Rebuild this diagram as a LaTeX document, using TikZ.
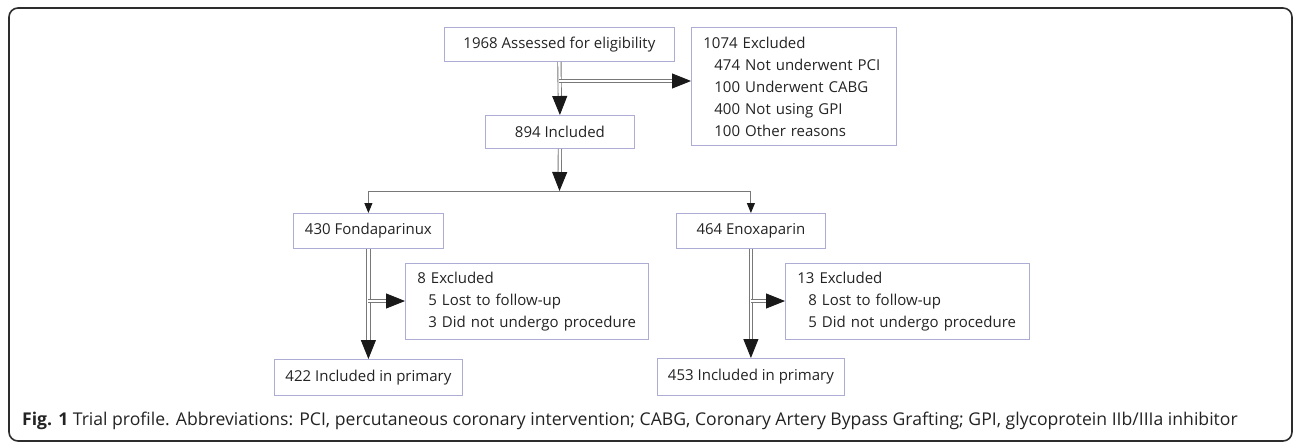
\documentclass[tikz,border=0pt]{standalone}
\usepackage{fontspec}
\setmainfont{Open Sans}
\usetikzlibrary{arrows.meta}
\definecolor{boxc}{RGB}{172,172,212}
\definecolor{linec}{RGB}{120,120,120}
\definecolor{tipc}{RGB}{25,25,25}
\definecolor{framec}{RGB}{45,45,45}
\definecolor{txt}{RGB}{35,35,35}
\begin{document}
\begin{tikzpicture}[x=1pt,y=-1pt,
  box/.style={draw=boxc, line width=0.8pt, inner sep=0pt, anchor=north west,
    font=\fontsize{15}{22}\selectfont, text=txt},
  listbox/.style={box, inner xsep=12pt, align=left},
  dbl/.style={draw=linec, double=white, double distance=2.4pt, line width=0.9pt,
    -{Triangle[length=19pt,width=15pt,color=tipc]}},
  sgl/.style={draw=linec, line width=0.9pt, -{Triangle[length=10pt,width=8pt,color=tipc]}}]
\useasboundingbox (0,0) rectangle (1295,444);
\draw[framec, line width=1.6pt, rounded corners=9pt] (9,8) rectangle (1292,441);
% boxes
\node[box, minimum width=230pt, minimum height=34pt] (b1968) at (444,27) {1968 Assessed for eligibility};
\node[listbox, text width=181pt, minimum height=118pt] (ex1) at (691,27)
  {1074 Excluded\\\hspace*{11pt}474 Not underwent PCI\\\hspace*{11pt}100 Underwent CABG\\\hspace*{11pt}400 Not using GPI\\\hspace*{11pt}100 Other reasons};
\node[box, minimum width=149pt, minimum height=33pt] (b894) at (485,115) {894 Included};
\node[box, minimum width=150pt, minimum height=35pt] (fonda) at (293,213) {430 Fondaparinux};
\node[box, minimum width=149pt, minimum height=35pt] (enox) at (676,213) {464 Enoxaparin};
\node[listbox, text width=219pt, minimum height=76pt] (ex8) at (405,263)
  {8 Excluded\\\hspace*{11pt}5 Lost to follow-up\\\hspace*{11pt}3 Did not undergo procedure};
\node[listbox, text width=220pt, minimum height=76pt] (ex13) at (785,263)
  {13 Excluded\\\hspace*{11pt}8 Lost to follow-up\\\hspace*{11pt}5 Did not undergo procedure};
\node[box, minimum width=188pt, minimum height=36pt] (p422) at (274,359) {422 Included in primary};
\node[box, minimum width=187pt, minimum height=37pt] (p453) at (657,358) {453 Included in primary};
% connectors
\coordinate (j1) at (559,81);
\coordinate (j2) at (559.5,191);
\coordinate (j3) at (368,301);
\coordinate (j4) at (750.5,301);
\draw[dbl] (b1968.south) -- (b894.north);
\draw[dbl] (j1) -- (j1 -| ex1.west);
\draw[dbl] (b894.south) -- (j2);
\draw[sgl] (j2) -| (fonda.north);
\draw[sgl] (j2) -| (enox.north);
\draw[dbl] (fonda.south) -- (p422.north);
\draw[dbl] (j3) -- (j3 -| ex8.west);
\draw[dbl] (enox.south) -- (p453.north);
\draw[dbl] (j4) -- (j4 -| ex13.west);
% caption
\node[anchor=west, inner sep=0pt, font=\fontsize{17.6}{20}\selectfont, text=txt] (cap) at (22,421)
  {\textbf{Fig. 1} Trial profile. Abbreviations: PCI, percutaneous coronary intervention; CABG, Coronary Artery Bypass Grafting; GPI, glycoprotein IIb/IIIa inhibitor};
\end{tikzpicture}
\end{document}
